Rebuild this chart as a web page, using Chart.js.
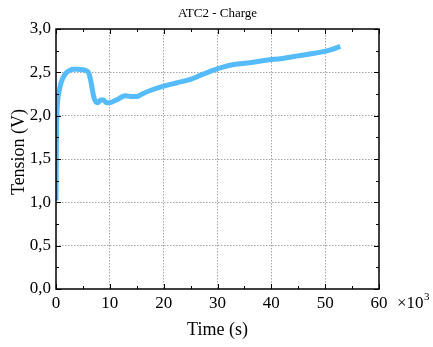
<!DOCTYPE html>
<html>
<head>
<meta charset="utf-8">
<script src="https://cdn.jsdelivr.net/npm/chart.js@4/dist/chart.umd.min.js"></script>
<style>
  html, body { margin: 0; padding: 0; background: #ffffff; }
  #wrap { width: 433px; height: 347px; }
</style>
</head>
<body>
<div id="wrap"><canvas id="c" width="433" height="347"></canvas></div>
<script>
// Charge curve of cell ATC2: time in thousands of seconds, voltage in volts
const timeK = [0, 0.03, 0.06, 0.1, 0.15, 0.22, 0.32, 0.45, 0.7, 1.05, 1.5, 2.0, 2.6, 3.2, 4.0, 5.0, 5.7,
  6.1, 6.4, 6.7, 7.0, 7.4, 7.8, 8.3, 8.8, 9.4, 10.0, 10.8, 11.5, 12.3, 13.0, 14.0, 15.0, 16.0,
  17.5, 20.0, 22.5, 25.0, 27.0, 29.0, 31.0, 33.0, 36.0, 39.0, 42.0, 45.0, 48.0, 51.0, 52.8];
const tension = [1.02, 1.3, 1.6, 1.85, 2.0, 2.1, 2.18, 2.24, 2.32, 2.40, 2.46, 2.50, 2.525, 2.535, 2.535, 2.53, 2.515,
  2.49, 2.42, 2.32, 2.22, 2.16, 2.15, 2.18, 2.18, 2.15, 2.15, 2.17, 2.19, 2.22, 2.23, 2.22, 2.22, 2.25,
  2.29, 2.34, 2.38, 2.42, 2.47, 2.52, 2.56, 2.59, 2.61, 2.64, 2.66, 2.69, 2.72, 2.76, 2.80];

// Axis ranges and tick steps
const xRange = [0, 60];
const yRange = [0, 3];
const xMajor = 10, xMinor = 5;
const yMajor = 0.5, yMinor = 0.25;

const chartTitle = 'ATC2 - Charge';
const xTitle = 'Time (s)';
const yTitle = 'Tension (V)';
const xMultiplier = '×10';
const xExponent = '3';

const serif = '"Liberation Serif", "Times New Roman", serif';
const lineColor = '#55bbfb';
const gridGrey = '#a6a6a6';

// Frame, inward ticks on all four sides, and the text around the plot
const framePlugin = {
  id: 'frame',
  afterDraw(chart) {
    const { ctx, chartArea: a, scales } = chart;
    const xs = scales.x, ys = scales.y;
    ctx.save();
    ctx.strokeStyle = '#000';
    ctx.lineWidth = 1;
    const tick = (x1, y1, x2, y2) => { ctx.beginPath(); ctx.moveTo(x1, y1); ctx.lineTo(x2, y2); ctx.stroke(); };
    for (let v = xRange[0]; v <= xRange[1] + 1e-9; v += xMinor) {
      const px = Math.round(xs.getPixelForValue(v)) + 0.5;
      const len = (Math.abs(v / xMajor - Math.round(v / xMajor)) < 1e-6) ? 5 : 3;
      tick(px, a.bottom, px, a.bottom - len);
      tick(px, a.top, px, a.top + len);
    }
    for (let v = yRange[0]; v <= yRange[1] + 1e-9; v += yMinor) {
      const py = Math.round(ys.getPixelForValue(v)) + 0.5;
      const len = (Math.abs(v / yMajor - Math.round(v / yMajor)) < 1e-6) ? 5 : 3;
      tick(a.left, py, a.left + len, py);
      tick(a.right, py, a.right - len, py);
    }
    ctx.lineWidth = 1.5;
    ctx.strokeRect(a.left, a.top, a.right - a.left, a.bottom - a.top);

    ctx.fillStyle = '#000';
    ctx.font = '13px ' + serif;
    ctx.textAlign = 'center';
    ctx.textBaseline = 'middle';
    ctx.fillText(chartTitle, (a.left + a.right) / 2, 14);
    ctx.font = '18px ' + serif;
    ctx.fillText(xTitle, (a.left + a.right) / 2, 330);
    ctx.save();
    ctx.translate(19, (a.top + a.bottom) / 2 - 7);
    ctx.rotate(-Math.PI / 2);
    ctx.fillText(yTitle, 0, 0);
    ctx.restore();
    ctx.font = '17px ' + serif;
    ctx.textAlign = 'left';
    ctx.textBaseline = 'alphabetic';
    ctx.fillText(xMultiplier, a.right + 18, 308);
    const w = ctx.measureText(xMultiplier).width;
    ctx.font = '11px ' + serif;
    ctx.fillText(xExponent, a.right + 18 + w + 0.5, 300);
    ctx.restore();
  }
};

const innerGrid = (range) => (c) =>
  (c.tick && (c.tick.value === range[0] || c.tick.value === range[1])) ? 'rgba(0,0,0,0)' : gridGrey;

new Chart(document.getElementById('c'), {
  type: 'line',
  data: {
    datasets: [{
      data: timeK.map((t, i) => ({ x: t, y: tension[i] })),
      borderColor: lineColor,
      borderWidth: 5,
      pointRadius: 0,
      fill: false,
      cubicInterpolationMode: 'monotone'
    }]
  },
  options: {
    responsive: false,
    animation: false,
    devicePixelRatio: 1,
    layout: { padding: { top: 29, right: 54, bottom: 0, left: 0 } },
    plugins: { legend: { display: false }, tooltip: { enabled: false }, title: { display: false } },
    scales: {
      x: {
        type: 'linear',
        min: xRange[0], max: xRange[1],
        afterFit: (s) => { s.height = 58; },
        ticks: {
          stepSize: xMajor,
          color: '#000',
          font: { family: serif, size: 17 },
          padding: 4,
          maxRotation: 0
        },
        grid: { drawTicks: false, lineWidth: 1, color: innerGrid(xRange) },
        border: { display: false, dash: [1.5, 1.5] }
      },
      y: {
        type: 'linear',
        min: yRange[0], max: yRange[1],
        afterFit: (s) => { s.width = 56; },
        ticks: {
          stepSize: yMajor,
          color: '#000',
          font: { family: serif, size: 17 },
          padding: 5,
          callback: (v) => Number(v).toFixed(1).replace('.', ',')
        },
        grid: { drawTicks: false, lineWidth: 1, color: innerGrid(yRange) },
        border: { display: false, dash: [1.5, 1.5] }
      }
    }
  },
  plugins: [framePlugin]
});
</script>
</body>
</html>
